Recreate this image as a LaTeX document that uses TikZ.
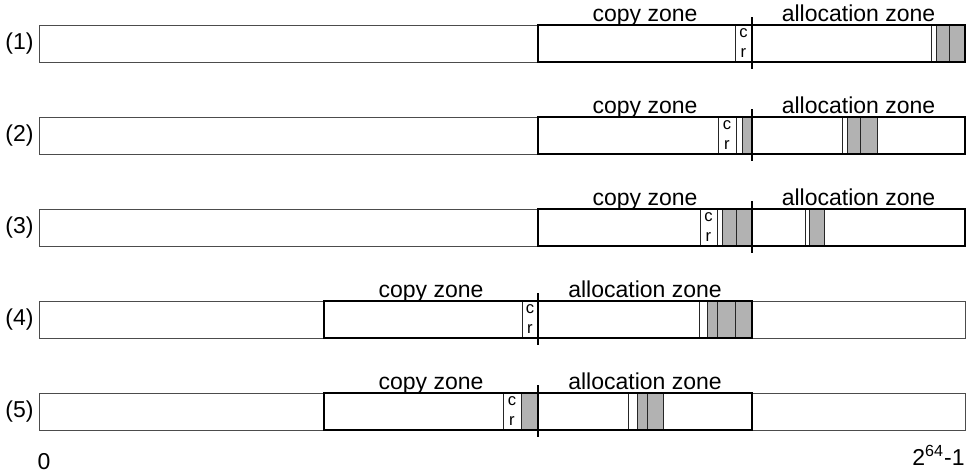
\documentclass[tikz,border=0pt]{standalone}
\usepackage{fontspec}
\setmainfont{Liberation Sans}
\tikzset{
  bar/.style={draw=black!70, line width=0.5pt},
  zonebox/.style={draw=black, line width=1pt},
  used/.style={draw=black!85, fill=black!30, line width=0.5pt},
  sliver/.style={draw=black!85, fill=white, line width=0.5pt},
  divider/.style={draw=black, line width=1pt},
  lbl/.style={font=\fontsize{11.5}{13}\selectfont, inner sep=0pt},
  crlbl/.style={font=\fontsize{8.3}{10}\selectfont, align=center, inner sep=0pt}
}
\begin{document}
\begin{tikzpicture}[x=0.5pt, y=-0.5pt]
\useasboundingbox (0,0) rectangle (966,473);
\foreach \i/\t/\a/\d/\e in {1/25/538/752/965, 2/117/538/752/965, 3/209/538/752/965, 4/301/324/538/752, 5/393/324/538/752}{
  \draw[bar] (39,\t) rectangle (965,\t+37);
  \node[lbl, anchor=east] (n\i) at (34,\t+19) {(\i)};
  \node[lbl, anchor=base] (cz\i) at ({(\a+\d)/2},\t-4) {copy zone};
  \node[lbl, anchor=base] (az\i) at ({(\d+\e)/2},\t-4) {allocation zone};
}
% (1)
\draw[sliver] (735,25) rectangle (752,62);
\node[crlbl] (cr1) at (743.5,43.5) {c\\r};
\draw[sliver] (931,25) rectangle (936,62);
\foreach \p/\q in {936/949, 949/965} \draw[used] (\p,25) rectangle (\q,62);
% (2)
\draw[sliver] (718,117) rectangle (736,154);
\node[crlbl] (cr2) at (727,135.5) {c\\r};
\draw[sliver] (736,117) rectangle (742,154);
\draw[used] (742,117) rectangle (752,154);
\draw[sliver] (842,117) rectangle (847,154);
\foreach \p/\q in {847/860, 860/877} \draw[used] (\p,117) rectangle (\q,154);
% (3)
\draw[sliver] (700,209) rectangle (717,246);
\node[crlbl] (cr3) at (708.5,227.5) {c\\r};
\draw[sliver] (717,209) rectangle (722,246);
\foreach \p/\q in {722/736, 736/752} \draw[used] (\p,209) rectangle (\q,246);
\draw[sliver] (805,209) rectangle (809,246);
\draw[used] (809,209) rectangle (824,246);
% (4)
\draw[sliver] (522,301) rectangle (538,338);
\node[crlbl] (cr4) at (530,319.5) {c\\r};
\draw[sliver] (699,301) rectangle (707,338);
\foreach \p/\q in {707/717, 717/735, 735/752} \draw[used] (\p,301) rectangle (\q,338);
% (5)
\draw[sliver] (503,393) rectangle (521,430);
\node[crlbl] (cr5) at (512,411.5) {c\\r};
\draw[used] (521,393) rectangle (538,430);
\draw[sliver] (628,393) rectangle (637,430);
\foreach \p/\q in {637/647, 647/663} \draw[used] (\p,393) rectangle (\q,430);
% zones
\foreach \t/\a/\d/\e in {25/538/752/965, 117/538/752/965, 209/538/752/965, 301/324/538/752, 393/324/538/752}{
  \draw[zonebox] (\a,\t) rectangle (\e,\t+37);
  \draw[divider] (\d,\t-8) -- (\d,\t+44);
}
\node[lbl, anchor=base] (zero) at (44,469) {0};
\node[lbl, anchor=base east] (top) at (965,465) {2\textsuperscript{64}-1};
\end{tikzpicture}
\end{document}
